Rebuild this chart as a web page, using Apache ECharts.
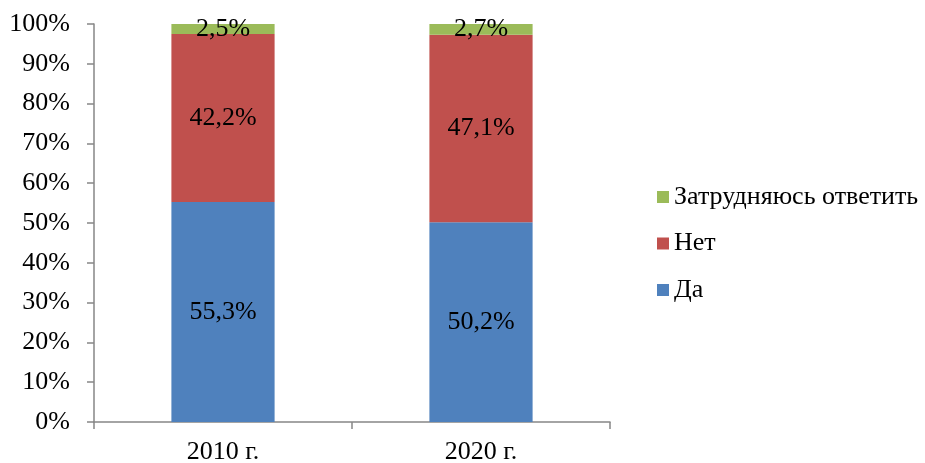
<!DOCTYPE html>
<html>
<head>
<meta charset="utf-8">
<script src="https://cdn.jsdelivr.net/npm/echarts@6/dist/echarts.min.js"></script>
<style>
  html, body { margin: 0; padding: 0; background: #fff; }
  #main { width: 925px; height: 463px; }
</style>
</head>
<body>
<div id="main"></div>
<script>
// данные
const categories = ['2010 г.', '2020 г.']
const seriesNames = ['Да', 'Нет', 'Затрудняюсь ответить']
const daValues = [55.3, 50.2]
const netValues = [42.2, 47.1]
const zatrValues = [2.5, 2.7]
const yTicks = [0, 10, 20, 30, 40, 50, 60, 70, 80, 90, 100]

const colors = ['#4F81BD', '#C0504D', '#9BBB59']
const font = 'Liberation Serif, Times New Roman, serif'
const fs = 26

const chart = echarts.init(document.getElementById('main'))

function barSeries (name, values, color) {
  return {
    name: name,
    type: 'bar',
    stack: 'total',
    barWidth: '40%',
    data: values,
    itemStyle: { color: color },
    label: {
      show: true,
      position: 'inside',
      color: '#000',
      fontFamily: font,
      fontSize: fs,
      formatter: function (p) {
        return p.value.toFixed(1).replace('.', ',') + '%'
      }
    }
  }
}

const option = {
  backgroundColor: '#fff',
  animation: false,
  grid: { left: 94, right: 315, top: 24, bottom: 41, outerBoundsMode: 'none' },
  legend: {
    orient: 'vertical',
    left: 652,
    top: 179,
    data: [seriesNames[2], seriesNames[1], seriesNames[0]],
    itemWidth: 12,
    itemHeight: 12,
    itemGap: 20.5,
    icon: 'rect',
    textStyle: { fontFamily: font, fontSize: fs, color: '#000', lineHeight: 26 }
  },
  xAxis: {
    type: 'category',
    data: categories,
    axisLine: { lineStyle: { color: '#868686', width: 1.5 } },
    axisTick: { show: true, length: 7, lineStyle: { color: '#868686', width: 1.5 } },
    axisLabel: { fontFamily: font, fontSize: fs, color: '#000', margin: 17 }
  },
  yAxis: {
    type: 'value',
    min: yTicks[0],
    max: yTicks[yTicks.length - 1],
    interval: yTicks[1] - yTicks[0],
    splitLine: { show: false },
    axisLine: { show: true, lineStyle: { color: '#868686', width: 1.5 } },
    axisTick: { show: true, length: 7, lineStyle: { color: '#868686', width: 1.5 } },
    axisLabel: {
      fontFamily: font, fontSize: fs, color: '#000', margin: 24,
      formatter: '{value}%'
    }
  },
  series: [
    barSeries(seriesNames[0], daValues, colors[0]),
    barSeries(seriesNames[1], netValues, colors[1]),
    barSeries(seriesNames[2], zatrValues, colors[2])
  ]
}
option && chart.setOption(option)
</script>
</body>
</html>
